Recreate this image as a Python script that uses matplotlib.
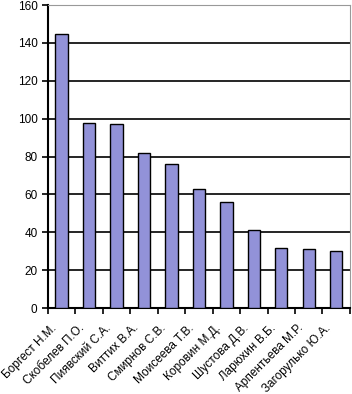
import numpy as np
import matplotlib.pyplot as plt
import matplotlib.transforms as mtransforms

names = ['Боргест Н.М.', 'Скобелев П.О.', 'Пиявский С.А.', 'Виттих В.А.',
         'Смирнов С.В.', 'Моисеева Т.В.', 'Коровин М.Д.', 'Шустова Д.В.',
         'Ларюхин В.Б.', 'Арпентьева М.Р.', 'Загорулько Ю.А.']
values = [145, 98, 97, 82, 76, 63, 56, 41, 32, 31, 30]
yticks = [0, 20, 40, 60, 80, 100, 120, 140, 160]

plt.rcParams['font.family'] = ['Liberation Sans', 'DejaVu Sans']

fig = plt.figure(figsize=(3.52, 3.94), dpi=100)
ax = fig.add_axes([0.136, 0.218, 0.858, 0.769])

x = np.arange(len(names))
ax.bar(x, values, width=0.45, color='#9292d8', edgecolor='black', linewidth=1.0, zorder=3)

ax.set_xlim(-0.5, len(names) - 0.5)
ax.set_ylim(0, 160)
ax.set_yticks(yticks)
ax.yaxis.grid(True, color='black', linewidth=1.2, zorder=0)
ax.tick_params(axis='y', labelsize=8.5, length=4, width=1.2, direction='out')

# category ticks sit between bars, labels under bars
ax.set_xticks(np.arange(len(names) + 1) - 0.5)
ax.set_xticklabels([])
ax.set_xticks(x, minor=True)
ax.set_xticklabels(names, minor=True, rotation=45, ha='right', rotation_mode='anchor', fontsize=8.5)
ax.tick_params(axis='x', which='major', length=4, width=1.2, direction='out')
ax.tick_params(axis='x', which='minor', length=0, pad=6)
shift = mtransforms.ScaledTranslation(-8 / 72, -4 / 72, fig.dpi_scale_trans)
for lab in ax.get_xticklabels(minor=True):
    lab.set_transform(lab.get_transform() + shift)

ax.spines['left'].set_linewidth(1.5)
ax.spines['bottom'].set_linewidth(1.5)
ax.spines['top'].set_color('#999999')
ax.spines['right'].set_color('#999999')

fig.savefig('out.png', dpi=100)
